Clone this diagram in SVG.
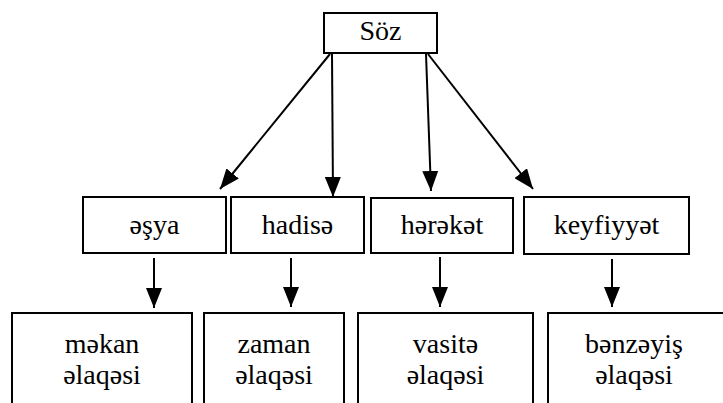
<svg xmlns="http://www.w3.org/2000/svg" width="723" height="403" viewBox="0 0 723 403">
<defs>
<marker id="ah" viewBox="0 0 20 16" refX="20" refY="8" markerWidth="20" markerHeight="16" markerUnits="userSpaceOnUse" orient="auto">
<path d="M0,0 L20,8 L0,16 z" fill="#000"/>
</marker>
</defs>
<rect width="723" height="403" fill="#fff"/>
<g id="connectors" stroke="#000" stroke-width="2" fill="none" marker-end="url(#ah)">
<line x1="330" y1="54" x2="220" y2="189"/>
<line x1="332" y1="54" x2="333" y2="197"/>
<line x1="426" y1="54" x2="431" y2="191"/>
<line x1="428" y1="54" x2="533" y2="189"/>
<line x1="154" y1="258" x2="154" y2="308"/>
<line x1="291" y1="258" x2="291" y2="307"/>
<line x1="440" y1="257" x2="440" y2="307"/>
<line x1="612" y1="259" x2="612" y2="307"/>
</g>
<g id="soz"><rect x="324" y="13" width="113" height="40" fill="#fff" stroke="#000" stroke-width="2"/><text x="380.5" y="40" style="font-family:'Liberation Serif',serif;font-size:28px;text-anchor:middle">Söz</text></g>
<g id="esya"><rect x="83" y="197" width="143" height="56" fill="#fff" stroke="#000" stroke-width="2"/><text x="154.5" y="234" style="font-family:'Liberation Serif',serif;font-size:28px;text-anchor:middle">əşya</text></g>
<g id="hadise"><rect x="231" y="197" width="133" height="56" fill="#fff" stroke="#000" stroke-width="2"/><text x="297.5" y="234" style="font-family:'Liberation Serif',serif;font-size:28px;text-anchor:middle">hadisə</text></g>
<g id="hereket"><rect x="371" y="198" width="142" height="55" fill="#fff" stroke="#000" stroke-width="2"/><text x="442" y="234" style="font-family:'Liberation Serif',serif;font-size:28px;text-anchor:middle">hərəkət</text></g>
<g id="keyfiyyet"><rect x="524" y="197" width="165" height="57" fill="#fff" stroke="#000" stroke-width="2"/><text x="606.5" y="234" style="font-family:'Liberation Serif',serif;font-size:28px;text-anchor:middle">keyfiyyət</text></g>
<g id="mekan"><rect x="12" y="313" width="180" height="110" fill="#fff" stroke="#000" stroke-width="2"/><text x="102" y="353" style="font-family:'Liberation Serif',serif;font-size:28px;text-anchor:middle">məkan</text><text x="102" y="384" style="font-family:'Liberation Serif',serif;font-size:28px;text-anchor:middle">əlaqəsi</text></g>
<g id="zaman"><rect x="204" y="313" width="140" height="110" fill="#fff" stroke="#000" stroke-width="2"/><text x="274" y="353" style="font-family:'Liberation Serif',serif;font-size:28px;text-anchor:middle">zaman</text><text x="274" y="384" style="font-family:'Liberation Serif',serif;font-size:28px;text-anchor:middle">əlaqəsi</text></g>
<g id="vasite"><rect x="358" y="313" width="175" height="110" fill="#fff" stroke="#000" stroke-width="2"/><text x="445.5" y="353" style="font-family:'Liberation Serif',serif;font-size:28px;text-anchor:middle">vasitə</text><text x="445.5" y="384" style="font-family:'Liberation Serif',serif;font-size:28px;text-anchor:middle">əlaqəsi</text></g>
<g id="benzeyis"><rect x="548" y="313" width="190" height="110" fill="#fff" stroke="#000" stroke-width="2"/><text x="634" y="353" style="font-family:'Liberation Serif',serif;font-size:28px;text-anchor:middle">bənzəyiş</text><text x="634" y="384" style="font-family:'Liberation Serif',serif;font-size:28px;text-anchor:middle">əlaqəsi</text></g>
</svg>
